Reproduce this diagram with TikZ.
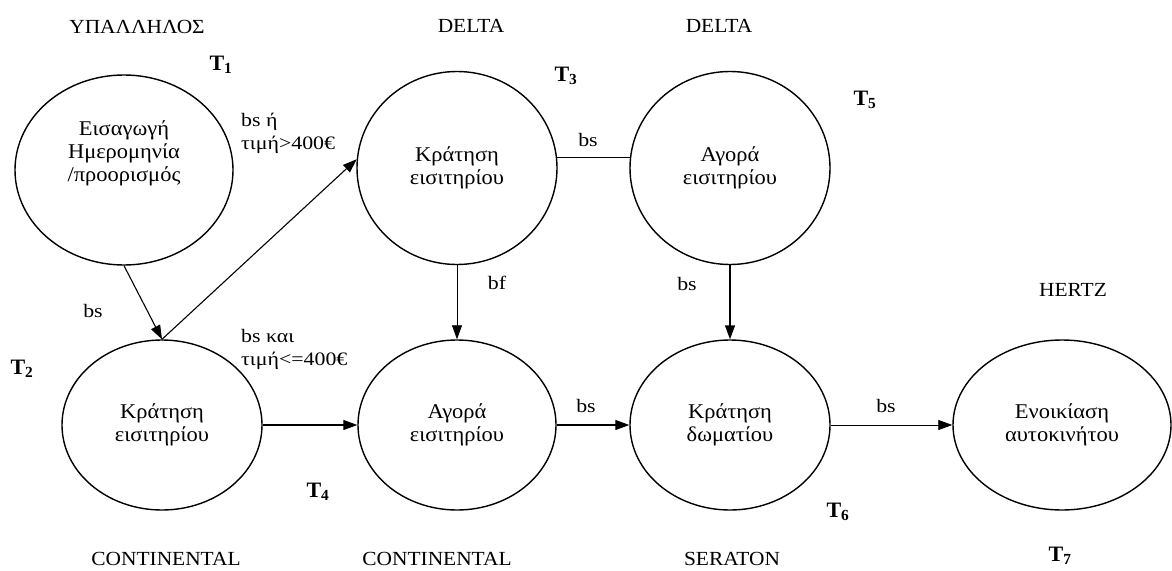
\documentclass[tikz,border=0pt]{standalone}
\usepackage{fontspec}
\setmainfont{Liberation Serif}
\newfontfamily\edgefont{Liberation Serif}[FakeStretch=1.15]
\newfontfamily\widefont{Liberation Serif}[FakeStretch=1.07]
\usetikzlibrary{shapes.geometric,arrows.meta}

\newcommand\tsub[1]{\textbf{T}\textsubscript{\textbf{#1}}}

\tikzset{
  stagetext/.style={font=\widefont\fontsize{21}{23}\selectfont, align=center},
  stage/.style={ellipse, draw, line width=1.4pt, inner sep=0pt, stagetext},
  flow/.style={line width=1.1pt, -{Triangle[length=14pt,width=10pt]}},
  thinflow/.style={flow, line width=0.8pt},
  plainlink/.style={line width=1.1pt},
  edgelabel/.style={font=\edgefont\fontsize{19}{23}\selectfont, align=left, inner sep=0pt},
  actor/.style={font=\widefont\fontsize{20}{24}\selectfont, inner sep=0pt},
  tlabel/.style={font=\fontsize{22}{24}\selectfont, inner sep=0pt},
}

\begin{document}
\begin{tikzpicture}[x=1pt, y=-1pt]
  \useasboundingbox (0,0) rectangle (1172,570);

  % stages of the workflow
  \node[stage, minimum width=218pt, minimum height=190pt,
        label={[stagetext, yshift=17pt]center:{Εισαγωγή\\Ημερομηνία\\/προορισμός}}]
        (e1) at (124,170) {};
  \node[stage, minimum width=200pt, minimum height=170pt] (e2) at (162,425) {Κράτηση\\εισιτηρίου};
  \node[stage, minimum width=200pt, minimum height=193pt] (e3) at (457,168) {Κράτηση\\εισιτηρίου};
  \node[stage, minimum width=198pt, minimum height=170pt] (e4) at (457,425) {Αγορά\\εισιτηρίου};
  \node[stage, minimum width=200pt, minimum height=193pt] (e5) at (730,168) {Αγορά\\εισιτηρίου};
  \node[stage, minimum width=200pt, minimum height=170pt] (e6) at (730,425) {Κράτηση\\δωματίου};
  \node[stage, minimum width=218pt, minimum height=170pt] (e7) at (1062,425) {Ενοικίαση\\αυτοκινήτου};

  % connectors
  \draw[flow] (e1.south) -- (e2.north);
  \draw[flow] (e2.north) -- (e3.175);
  \draw[flow] (e2.east) -- (e4.west);
  \draw[plainlink] (e3.6) -- (e5.174);
  \draw[thinflow] (e3.south) -- (e4.north);
  \draw[flow, line width=1.4pt] (e5.south) -- (e6.north);
  \draw[flow] (e4.east) -- (e6.west);
  \draw[thinflow] (e6.east) -- (e7.west);

  % connector labels
  \node[edgelabel] (l12) at (93,311) {bs};
  \node[edgelabel, anchor=west] (l23) at (241,133) {bs ή\\τιμή>400€};
  \node[edgelabel, anchor=west] (l24) at (241,349) {bs και\\τιμή<=400€};
  \node[edgelabel] (l35) at (588,140) {bs};
  \node[edgelabel] (l34) at (497,283) {bf};
  \node[edgelabel] (l56) at (687,284) {bs};
  \node[edgelabel] (l46) at (586,406) {bs};
  \node[edgelabel] (l67) at (886,406) {bs};

  % actors
  \node[actor] (a1) at (137,27) {ΥΠΑΛΛΗΛΟΣ};
  \node[actor] (a3) at (471,26) {DELTA};
  \node[actor] (a5) at (719,26) {DELTA};
  \node[actor] (a7) at (1073,290) {HERTZ};
  \node[actor] (a2) at (166,559) {CONTINENTAL};
  \node[actor] (a4) at (437,559) {CONTINENTAL};
  \node[actor] (a6) at (732,559) {SERATON};

  % task labels
  \node[tlabel] (t1) at (221,65) {\tsub{1}};
  \node[tlabel] (t2) at (22,369) {\tsub{2}};
  \node[tlabel] (t3) at (566,76) {\tsub{3}};
  \node[tlabel] (t4) at (318,492) {\tsub{4}};
  \node[tlabel] (t5) at (865,100) {\tsub{5}};
  \node[tlabel] (t6) at (838,512) {\tsub{6}};
  \node[tlabel] (t7) at (1060,556) {\tsub{7}};
\end{tikzpicture}
\end{document}
